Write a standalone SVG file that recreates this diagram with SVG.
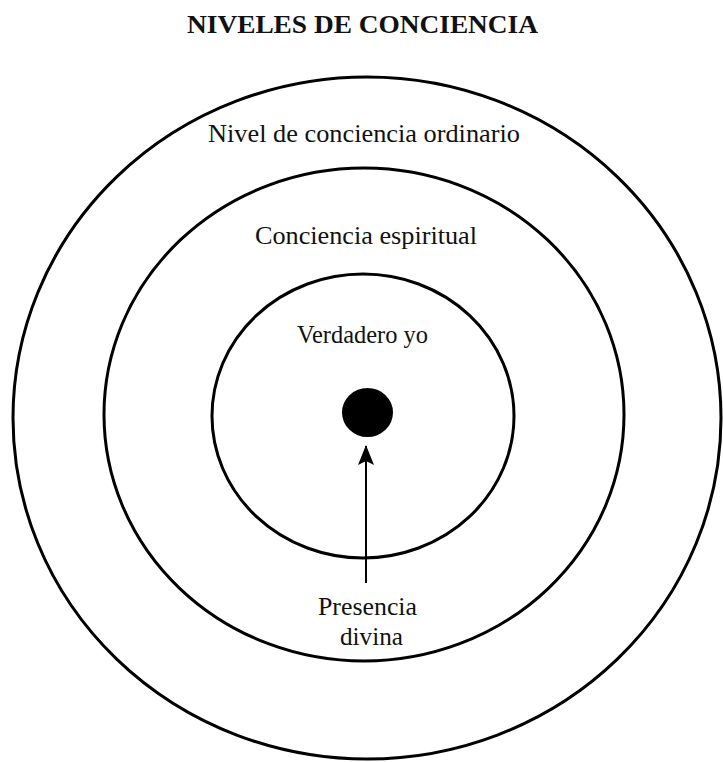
<svg xmlns="http://www.w3.org/2000/svg" width="723" height="762" viewBox="0 0 723 762">
<style>
.ring{fill:none;stroke:#000;stroke-width:3}
.lbl{font-family:"Liberation Serif","Times New Roman",serif;font-size:25px;fill:#111;text-anchor:middle}
.title{font-family:"Liberation Serif","Times New Roman",serif;font-size:26px;font-weight:bold;fill:#111;text-anchor:middle}
</style>
<defs>
<marker id="ah" markerWidth="20" markerHeight="16" refX="19" refY="8" orient="auto" markerUnits="userSpaceOnUse" viewBox="0 0 20 16">
<path d="M20,8 L0,0 L4,8 L0,16 Z" fill="#000"/>
</marker>
</defs>
<rect width="723" height="762" fill="#fff"/>
<text class="title" x="362.5" y="33" textLength="351" lengthAdjust="spacingAndGlyphs">NIVELES DE CONCIENCIA</text>
<g id="outer">
<ellipse class="ring" cx="367" cy="418" rx="354" ry="341"/>
<text class="lbl" x="364" y="142" textLength="312" lengthAdjust="spacingAndGlyphs">Nivel de conciencia ordinario</text>
</g>
<g id="middle">
<ellipse class="ring" cx="364" cy="414.5" rx="260" ry="246.5"/>
<text class="lbl" x="366" y="244" textLength="222" lengthAdjust="spacingAndGlyphs">Conciencia espiritual</text>
</g>
<g id="inner">
<ellipse class="ring" cx="363" cy="416" rx="151" ry="142"/>
<text class="lbl" x="362.5" y="343" textLength="131" lengthAdjust="spacingAndGlyphs">Verdadero yo</text>
</g>
<g id="core">
<ellipse cx="367.5" cy="412.5" rx="25.5" ry="24.5" fill="#000"/>
</g>
<g id="presencia">
<text class="lbl" x="367.5" y="615" textLength="99" lengthAdjust="spacingAndGlyphs">Presencia</text>
<text class="lbl" x="371.5" y="645" textLength="63" lengthAdjust="spacingAndGlyphs">divina</text>
</g>
<g id="connectors">
<line x1="366" y1="583" x2="366" y2="446" stroke="#000" stroke-width="2" marker-end="url(#ah)"/>
</g>
</svg>
